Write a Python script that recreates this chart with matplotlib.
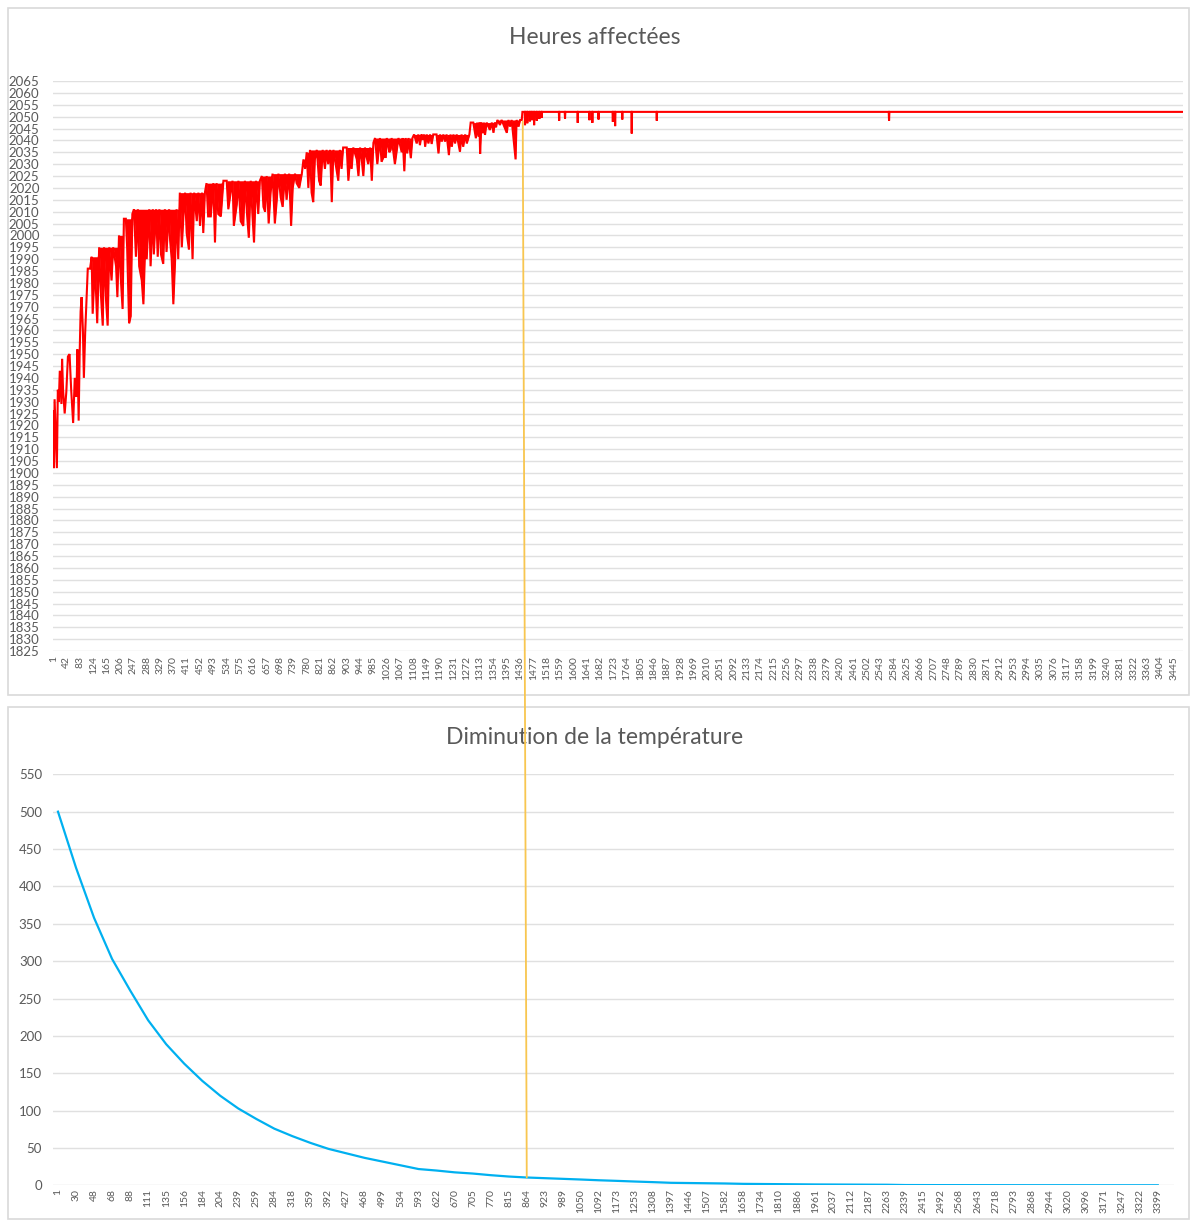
import numpy as np
import matplotlib
matplotlib.use('Agg')
import matplotlib.pyplot as plt
from matplotlib.patches import Rectangle, ConnectionPatch

plt.rcParams['font.family'] = ['Lato', 'DejaVu Sans']

# --- Heures affectées : trace (iteration, hours) ---
trace_cat = [1, 3, 5, 9, 12, 15, 18, 21, 26, 28, 31, 36, 41, 46, 51, 56, 62, 67, 72, 75,
             79, 82, 85, 88, 92, 95, 99, 104, 107, 114, 119, 122, 129, 136, 142, 147, 153,
             157, 163, 168, 173, 180, 185, 194, 198, 203, 208, 214, 218, 224, 228, 234, 239,
             244, 249, 255, 261, 265, 273, 278, 283, 288, 296, 300, 307, 310, 317, 322, 327,
             332, 339, 344, 349, 357, 360, 365, 370, 375, 380, 385, 390, 396, 401, 406, 411,
             418, 423, 429, 434, 442, 447, 452, 458, 462, 467, 472, 477, 485, 493, 498, 503,
             508, 516, 524, 534, 539, 546, 552, 556, 565, 570, 577, 585, 590, 597, 602, 608,
             613, 618, 624, 631, 636, 642, 647, 652, 657, 663, 669, 675, 682, 688, 693, 700,
             706, 713, 718, 726, 732, 737, 744, 749, 757, 765, 770, 775, 780, 785, 790, 795,
             800, 805, 811, 818, 823, 829, 836, 841, 846, 852, 857, 862, 870, 877, 882, 887,
             892, 903, 908, 913, 918, 923, 934, 939, 944, 949, 954, 959, 964, 969, 975, 980,
             985, 990, 997, 1005, 1010, 1016, 1023, 1026, 1034, 1038, 1041, 1051, 1062, 1072,
             1075, 1080, 1084, 1089, 1093, 1100, 1105, 1110, 1118, 1123, 1128, 1133, 1136,
             1141, 1144, 1149, 1154, 1159, 1164, 1169, 1179, 1185, 1190, 1195, 1200, 1205,
             1210, 1217, 1222, 1226, 1231, 1236, 1241, 1251, 1256, 1261, 1267, 1272, 1280,
             1284, 1292, 1300, 1304, 1308, 1311, 1313, 1317, 1321, 1325, 1328, 1333, 1343,
             1349, 1354, 1358, 1362, 1366, 1374, 1379, 1395, 1400, 1405, 1410, 1422, 1425,
             1431, 1436, 1441, 1443]
trace_val = [1926, 1902, 1931, 1915, 1902, 1935, 1930, 1943, 1929, 1948, 1935, 1925, 1934,
             1949, 1950, 1935, 1921, 1940, 1932, 1952, 1922, 1950, 1968, 1974, 1960, 1940,
             1959, 1976, 1986, 1986, 1991, 1967, 1988, 1963, 1995, 1976, 1962, 1995, 1973,
             1962, 1995, 1981, 1995, 1987, 1974, 2000, 1983, 1969, 2007, 2007, 1995, 1963,
             1966, 2009, 2011, 1991, 2011, 1987, 1981, 1971, 1994, 1990, 2011, 1987, 2011,
             1992, 2011, 1991, 2011, 1992, 1988, 2011, 1993, 2011, 1998, 1990, 1971, 1988,
             2011, 1990, 2018, 1995, 2008, 2018, 2001, 1994, 2018, 1990, 2018, 2006, 2018,
             2004, 2018, 2001, 2018, 2022, 2008, 2008, 2022, 1997, 2022, 2009, 2008, 2023,
             2023, 2011, 2018, 2023, 2004, 2013, 2023, 2006, 2004, 2023, 2008, 1999, 2023,
             2009, 1997, 2023, 2009, 2023, 2025, 2012, 2010, 2025, 2005, 2018, 2026, 2005,
             2015, 2026, 2016, 2012, 2026, 2015, 2026, 2004, 2020, 2026, 2022, 2020, 2026,
             2032, 2028, 2035, 2020, 2036, 2018, 2014, 2032, 2036, 2023, 2021, 2036, 2028,
             2036, 2030, 2036, 2014, 2036, 2029, 2023, 2036, 2028, 2037, 2037, 2023, 2032,
             2028, 2037, 2032, 2025, 2037, 2032, 2025, 2037, 2033, 2030, 2037, 2023, 2039,
             2041, 2030, 2041, 2031, 2033, 2033, 2041, 2035, 2036, 2041, 2030, 2041, 2035,
             2041, 2027, 2041, 2034.5, 2041, 2032.5, 2041, 2042.5, 2038.7, 2042.5, 2038,
             2042.5, 2040.2, 2042.5, 2037.3, 2042.5, 2038.7, 2042.5, 2038.5, 2042.5, 2042.5,
             2034.5, 2042.5, 2039.5, 2042.5, 2039.5, 2042.5, 2033.8, 2042.5, 2037.3, 2042.5,
             2038.7, 2042.5, 2035.2, 2042.5, 2037.3, 2042.5, 2038.7, 2042.5, 2047.5, 2047.5,
             2040.9, 2047.5, 2041.6, 2047.5, 2034.3, 2047.5, 2043, 2047.5, 2042.3, 2047.5,
             2044.4, 2047.5, 2043.2, 2047.5, 2045.5, 2048.6, 2046.5, 2048.6, 2043.2, 2048.6,
             2045.8, 2048.6, 2032, 2048.6, 2045.8, 2048.6, 2048.6, 2052]

# flat part after convergence: level and the few dips
final_level = 2052
last_cat = 3472
dip_cat = [1451, 1458, 1466, 1472, 1479, 1487, 1495, 1502, 1556, 1574, 1613, 1649, 1658,
           1677, 1721, 1728, 1750, 1779, 1856, 2570]
dip_val = [2046.4, 2047.2, 2048, 2048.5, 2046.4, 2048.3, 2049, 2049.5, 2048.3, 2049.2,
           2047.4, 2048.5, 2047.4, 2048.8, 2047.8, 2046, 2048.8, 2042.9, 2048.3, 2048.3]

# --- Diminution de la température ---
temp_labels = ['1', '30', '48', '68', '88', '111', '135', '156', '184', '204', '239', '259',
               '284', '318', '359', '392', '427', '468', '499', '534', '593', '622', '670',
               '705', '770', '815', '864', '923', '989', '1050', '1092', '1173', '1253',
               '1308', '1397', '1446', '1507', '1582', '1658', '1734', '1810', '1886', '1961',
               '2037', '2112', '2187', '2263', '2339', '2415', '2492', '2568', '2643', '2718',
               '2793', '2868', '2944', '3020', '3096', '3171', '3247', '3322', '3399']
temp_vals = [500, 425, 358, 303, 261, 221, 189, 163, 140, 120, 103, 89, 76, 66, 57, 49, 43,
             37, 32, 27, 22, 20, 17.6, 16, 13.8, 12, 10.7, 9.8, 8.9, 8, 7, 6.2, 5.3, 4.5,
             3.6, 3.3, 3, 2.7, 2.2, 2, 1.8, 1.6, 1.4, 1.3, 1.2, 1.1, 1.0, 0.6, 0.55, 0.5,
             0.48, 0.45, 0.43, 0.4, 0.38, 0.36, 0.35, 0.33, 0.32, 0.31, 0.3, 0.3]

# build the full hours series knots
cats = list(trace_cat)
vals = list(trace_val)
for c, v in zip(dip_cat, dip_val):
    cats += [c - 1, c, c + 1]
    vals += [final_level, v, final_level]
cats.append(last_cat)
vals.append(final_level)

tc = np.array(trace_cat)
tv = np.array(trace_val, dtype=float)
best = np.maximum.accumulate(tv)   # best value found so far (top of the noisy band)

grey = '#595959'
grid = '#E0E0E0'

fig = plt.figure(figsize=(11.9, 12.2), dpi=100)

# chart frames
fig.add_artist(Rectangle((7.5 / 1190, 1 - 695 / 1220), 1181 / 1190, 687 / 1220,
                         transform=fig.transFigure, fill=False, ec='#D9D9D9', lw=1.2))
fig.add_artist(Rectangle((7.5 / 1190, 0.001), 1181 / 1190, 1 - 707 / 1220 - 0.001,
                         transform=fig.transFigure, fill=False, ec='#D9D9D9', lw=1.2))

ax1 = fig.add_axes([0.04429, 0.46639, 0.94941, 0.46721])
# dense oscillations below the best-so-far value render as a solid red band
ax1.fill_between(tc, tv, best, where=tc >= 100, color='#FF0000', lw=0)
ax1.plot(cats, vals, color='#FF0000', lw=1.5, solid_joinstyle='miter')
ax1.set_xlim(-0.8, last_cat)
ax1.set_ylim(1825, 2065)
ax1.set_yticks(np.arange(1825, 2066, 5))
xt = np.arange(1, 3446, 41)
ax1.set_xticks(xt)
ax1.set_xticklabels([str(t) for t in xt], rotation=90, fontsize=7.5, color=grey)
ax1.tick_params(axis='y', labelsize=9.5, labelcolor=grey, length=0, pad=9.5)
ax1.tick_params(axis='x', length=0, pad=3.5)
ax1.grid(axis='y', color=grid, lw=1.0)
ax1.set_axisbelow(True)
for s in ax1.spines.values():
    s.set_visible(False)
fig.text(0.5, 1 - 38 / 1220, 'Heures affectées', ha='center', va='center',
         fontsize=16.5, color=grey)

ax2 = fig.add_axes([0.04454, 0.02828, 0.94202, 0.33705])
xi = np.arange(len(temp_vals))
ax2.plot(xi, temp_vals, color='#00B0F0', lw=1.6)
ax2.set_xlim(-0.277, 61.9)
ax2.set_ylim(0, 550)
ax2.set_yticks(np.arange(0, 551, 50))
ax2.set_xticks(xi)
ax2.set_xticklabels(temp_labels, rotation=90, fontsize=7.5, color=grey)
ax2.tick_params(axis='y', labelsize=9.5, labelcolor=grey, length=0, pad=8)
ax2.tick_params(axis='x', length=0, pad=2.5)
ax2.grid(axis='y', color=grid, lw=1.0)
ax2.set_axisbelow(True)
for s in ax2.spines.values():
    s.set_visible(False)
fig.text(0.5, 1 - 738 / 1220, 'Diminution de la température', ha='center', va='center',
         fontsize=16.5, color=grey)

# link between convergence point and the temperature at that moment
con = ConnectionPatch(xyA=(1444, 2048), coordsA=ax1.transData,
                      xyB=(26, temp_vals[26]), coordsB=ax2.transData,
                      color='#F8C650', lw=1.3, zorder=10)
fig.add_artist(con)

fig.savefig('out.png', dpi=100)
